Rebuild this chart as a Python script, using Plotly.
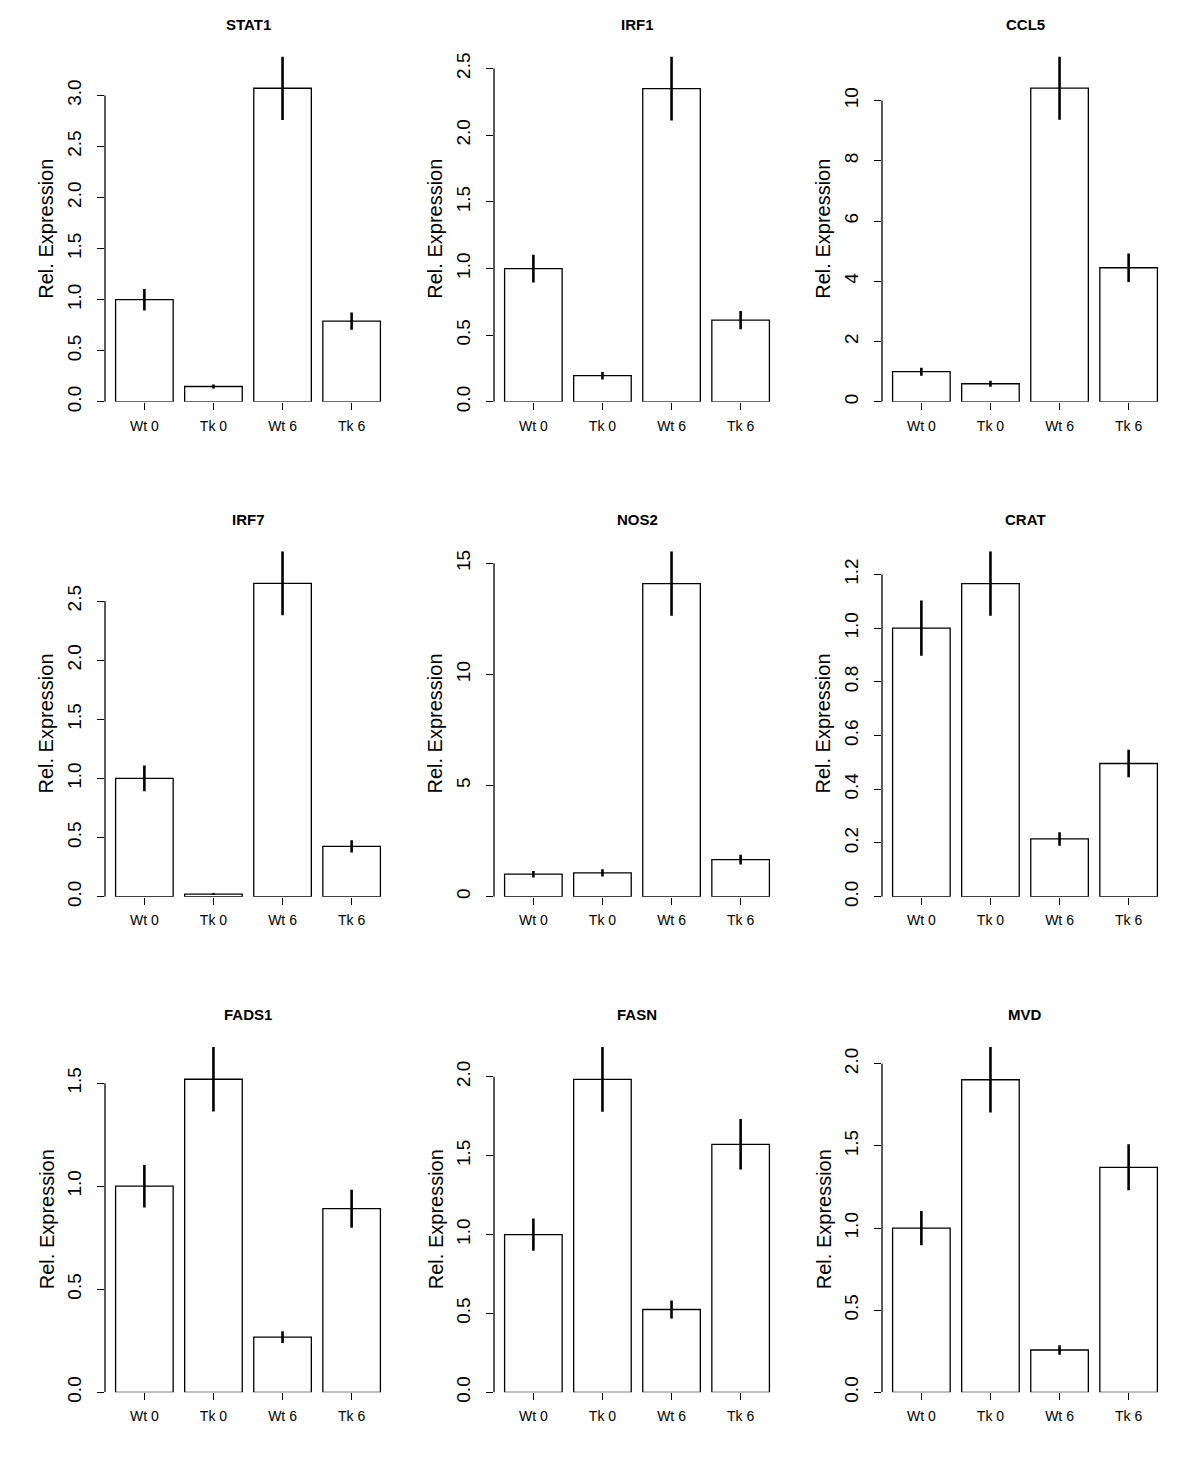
import plotly.graph_objects as go

categories = ["Wt 0", "Tk 0", "Wt 6", "Tk 6"]
genes = ["STAT1", "IRF1", "CCL5", "IRF7", "NOS2", "CRAT", "FADS1", "FASN", "MVD"]

stat1_mean = [1.00, 0.15, 3.07, 0.79]
stat1_se = [0.105, 0.02, 0.31, 0.085]
irf1_mean = [1.00, 0.196, 2.35, 0.613]
irf1_se = [0.104, 0.028, 0.24, 0.068]
ccl5_mean = [1.00, 0.60, 10.41, 4.45]
ccl5_se = [0.13, 0.10, 1.05, 0.47]
irf7_mean = [1.00, 0.022, 2.65, 0.426]
irf7_se = [0.109, 0.008, 0.27, 0.052]
nos2_mean = [1.01, 1.07, 14.09, 1.667]
nos2_se = [0.15, 0.16, 1.45, 0.22]
crat_mean = [1.00, 1.166, 0.215, 0.496]
crat_se = [0.103, 0.12, 0.025, 0.051]
fads1_mean = [1.00, 1.519, 0.268, 0.891]
fads1_se = [0.103, 0.156, 0.029, 0.092]
fasn_mean = [1.00, 1.983, 0.525, 1.572]
fasn_se = [0.102, 0.205, 0.057, 0.16]
mvd_mean = [1.00, 1.903, 0.258, 1.37]
mvd_se = [0.104, 0.199, 0.029, 0.14]

means = [stat1_mean, irf1_mean, ccl5_mean, irf7_mean, nos2_mean,
         crat_mean, fads1_mean, fasn_mean, mvd_mean]
ses = [stat1_se, irf1_se, ccl5_se, irf7_se, nos2_se,
       crat_se, fads1_se, fasn_se, mvd_se]
dticks = [0.5, 0.5, 2, 0.5, 5, 0.2, 0.5, 0.5, 0.5]
decimals = [1, 1, 0, 1, 0, 1, 1, 1, 1]

# body margin of 8px; keep the figure a bit smaller than the window so no scrollbars
PAD = 8
W, H = 1176, 1430
col_left = [105 - PAD, 494 - PAD, 882 - PAD]
plot_w = 286
row_top = [53 - PAD, 552.7 - PAD, 1053.3 - PAD]
plot_h = 348.7

FONT = "Liberation Sans, Arial, Helvetica, sans-serif"

# R barplot geometry: width 1, space 0.2
x_pos = [0.2 + i * 1.2 + 0.5 for i in range(4)]
x_range = [0.2 - 0.184, 4.8 + 0.184]

fig = go.Figure()
layout = dict(width=W, height=H, margin=dict(l=0, r=0, t=0, b=0),
              paper_bgcolor="white", plot_bgcolor="white",
              showlegend=False, font=dict(family=FONT, color="black"))
annotations = []
shapes = []

for k in range(9):
    r, c = divmod(k, 3)
    n = k + 1
    xs = "" if n == 1 else str(n)
    mean, se = means[k], ses[k]
    top = max(m + s for m, s in zip(mean, se))
    dt = dticks[k]
    nt = int(top / dt + 1e-9)
    tickvals = [i * dt for i in range(nt + 1)]
    fmt = "{:.%df}" % decimals[k]
    ticktext = [fmt.format(v) for v in tickvals]

    x0 = col_left[c] / W
    x1 = (col_left[c] + plot_w) / W
    ytop = 1 - row_top[r] / H
    ybot = 1 - (row_top[r] + plot_h) / H

    fig.add_trace(go.Bar(
        x=x_pos, y=mean, width=1,
        marker=dict(color="white", line=dict(color="black", width=1.3)),
        error_y=dict(type="data", array=se, width=0, thickness=2.6, color="black"),
        xaxis="x" + xs, yaxis="y" + xs, cliponaxis=False,
    ))

    layout["xaxis" + xs] = dict(
        domain=[x0, x1], anchor="y" + xs, range=x_range,
        tickmode="array", tickvals=x_pos, ticktext=categories,
        ticks="outside", ticklen=7, tickwidth=1.3, tickcolor="black",
        ticklabelstandoff=4,
        showline=False, showgrid=False, zeroline=False,
        tickfont=dict(size=14, family=FONT, color="black"),
        fixedrange=True,
    )
    layout["yaxis" + xs] = dict(
        domain=[ybot, ytop], anchor="x" + xs, range=[0, top],
        tickmode="array", tickvals=tickvals, ticktext=ticktext,
        tickangle=-90, ticks="outside", ticklen=7, tickwidth=1.3,
        ticklabelstandoff=8,
        tickcolor="black", showline=False, showgrid=False, zeroline=False,
        tickfont=dict(size=19, family=FONT, color="black"),
        fixedrange=True,
    )
    shapes.append(dict(type="line", xref="x" + xs + " domain", yref="y" + xs,
                       x0=0, x1=0, y0=0, y1=tickvals[-1],
                       line=dict(color="black", width=1.3)))
    annotations.append(dict(text="<b>%s</b>" % genes[k], xref="paper", yref="paper",
                            x=(x0 + x1) / 2, y=1 - (row_top[r] - 32.5) / H,
                            xanchor="center", yanchor="middle", showarrow=False,
                            font=dict(size=15, family=FONT, color="black")))
    annotations.append(dict(text="Rel. Expression", xref="paper", yref="paper",
                            x=(col_left[c] - 58.5) / W, y=(ytop + ybot) / 2,
                            xanchor="center", yanchor="middle", textangle=-90,
                            showarrow=False,
                            font=dict(size=20, family=FONT, color="black")))

layout["annotations"] = annotations
layout["shapes"] = shapes
fig.update_layout(**layout)
fig.write_html("out.html", config={"displayModeBar": False})
